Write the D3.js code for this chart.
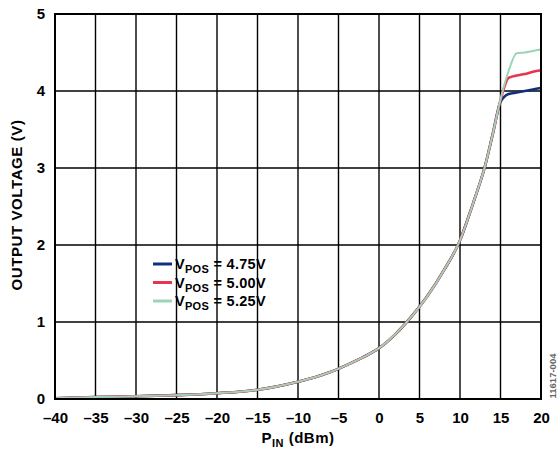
<!DOCTYPE html>
<html>
<head>
<meta charset="utf-8">
<script src="https://cdn.jsdelivr.net/npm/d3@7"></script>
<style>
  body { margin: 0; background: #fff; }
  text { font-family: Arial, "Liberation Sans", sans-serif; font-weight: bold; }
</style>
</head>
<body>
<script>
    //Declare consts/global variables
        const width = 559;
        const height = 451;
        const plotLeft = 55, plotRight = 541, plotTop = 14, plotBottom = 399;

    //Data
        const pIn = [-40, -35, -30, -25, -20, -15, -10, -8, -6, -4, -2, 0, 2, 4, 6, 8, 10, 11, 12, 13, 14, 15, 16, 17, 18, 19, 20];
        const v475 = [0.01, 0.025, 0.035, 0.05, 0.075, 0.12, 0.225, 0.28, 0.35, 0.44, 0.54, 0.66, 0.84, 1.07, 1.34, 1.67, 2.06, 2.35, 2.66, 2.99, 3.42, 3.86, 3.96, 3.98, 4.0, 4.02, 4.04];
        const v500 = [0.01, 0.025, 0.035, 0.05, 0.075, 0.12, 0.225, 0.28, 0.35, 0.44, 0.54, 0.66, 0.84, 1.07, 1.34, 1.67, 2.06, 2.35, 2.66, 2.99, 3.42, 3.88, 4.17, 4.2, 4.22, 4.25, 4.27];
        const v525 = [0.01, 0.025, 0.035, 0.05, 0.075, 0.12, 0.225, 0.28, 0.35, 0.44, 0.54, 0.66, 0.84, 1.07, 1.34, 1.67, 2.06, 2.35, 2.66, 2.99, 3.42, 3.89, 4.26, 4.49, 4.5, 4.52, 4.54];
        const seriesNames = ["4.75V", "5.00V", "5.25V"];
        const seriesColors = ["#13307f", "#e8344e", "#9dd4b6"];
        const xTicks = [-40, -35, -30, -25, -20, -15, -10, -5, 0, 5, 10, 15, 20];
        const yTicks = [0, 1, 2, 3, 4, 5];

        const series = [v475, v500, v525];
        const fontFam = "Arial, 'Liberation Sans', sans-serif";

    //Scales
        const xScale = d3.scaleLinear().domain([-40, 20]).range([plotLeft, plotRight]);
        const yScale = d3.scaleLinear().domain([0, 5]).range([plotBottom, plotTop]);

    //SVG
        const svg = d3.select("body").append("svg")
            .attr("width", width)
            .attr("height", height);

    //Grid
        svg.append("g")
            .selectAll("line")
            .data(xTicks)
            .enter().append("line")
            .attr("x1", d => xScale(d)).attr("x2", d => xScale(d))
            .attr("y1", plotTop).attr("y2", plotBottom)
            .attr("stroke", "#000").attr("stroke-width", 1.4);

        svg.append("g")
            .selectAll("line")
            .data(yTicks)
            .enter().append("line")
            .attr("x1", plotLeft).attr("x2", plotRight)
            .attr("y1", d => yScale(d)).attr("y2", d => yScale(d))
            .attr("stroke", "#000").attr("stroke-width", 1.4);

    //Axes - tick labels only
        const bottomAxis = d3.axisBottom(xScale)
            .tickValues(xTicks)
            .tickSize(0)
            .tickPadding(13)
            .tickFormat(d => d < 0 ? "\u2013" + Math.abs(d) : d);
        const gx = svg.append("g")
            .attr("transform", "translate(0," + plotBottom + ")")
            .call(bottomAxis);
        gx.select(".domain").remove();
        gx.selectAll("text").attr("font-size", 15).attr("font-family", fontFam).attr("font-weight", "bold").attr("fill", "#000");

        const leftAxis = d3.axisLeft(yScale)
            .tickValues(yTicks)
            .tickSize(0)
            .tickPadding(10)
            .tickFormat(d3.format("d"));
        const gy = svg.append("g")
            .attr("transform", "translate(" + plotLeft + ",0)")
            .call(leftAxis);
        gy.select(".domain").remove();
        gy.selectAll("text").attr("font-size", 15).attr("font-family", fontFam).attr("font-weight", "bold").attr("fill", "#000");

    //Lines
        const line = d3.line()
            .x((d, i) => xScale(pIn[i]))
            .y(d => yScale(d))
            .curve(d3.curveMonotoneX);

        const widths = [2.6, 2.6, 2];
        series.forEach((s, k) => {
            svg.append("path")
                .datum(s)
                .attr("d", line)
                .attr("fill", "none")
                .attr("stroke", seriesColors[k])
                .attr("stroke-width", widths[k]);
        });

    //Frame
        svg.append("rect")
            .attr("x", plotLeft).attr("y", plotTop)
            .attr("width", plotRight - plotLeft).attr("height", plotBottom - plotTop)
            .attr("fill", "none").attr("stroke", "#000").attr("stroke-width", 2);

    //Legend
        const legend = svg.append("g").attr("transform", "translate(153,264)");
        seriesNames.forEach((name, k) => {
            const g = legend.append("g").attr("transform", "translate(0," + k * 18.5 + ")");
            g.append("line")
                .attr("x1", 0).attr("x2", 19)
                .attr("y1", 0).attr("y2", 0)
                .attr("stroke", seriesColors[k]).attr("stroke-width", 3);
            const t = g.append("text").attr("x", 22).attr("y", 5).attr("font-size", 14.5).attr("letter-spacing", 0.3);
            t.append("tspan").text("V");
            t.append("tspan").attr("font-size", 11).attr("dy", 4).text("POS");
            t.append("tspan").attr("dy", -4).text(" = " + name);
        });

    //Axis titles
        const xt = svg.append("text")
            .attr("x", (plotLeft + plotRight) / 2)
            .attr("y", 443)
            .attr("text-anchor", "middle")
            .attr("font-size", 15)
            .attr("letter-spacing", 0.5);
        xt.append("tspan").text("P");
        xt.append("tspan").attr("font-size", 11).attr("dy", 3.5).text("IN");
        xt.append("tspan").attr("dy", -3.5).text(" (dBm)");

        svg.append("text")
            .attr("transform", "translate(22," + 205 + ") rotate(-90)")
            .attr("text-anchor", "middle")
            .attr("font-size", 15)
            .attr("letter-spacing", 0.6)
            .text("OUTPUT VOLTAGE (V)");

        svg.append("text")
            .attr("transform", "translate(556,376) rotate(-90)")
            .attr("text-anchor", "middle")
            .attr("font-size", 9.5)
            .attr("font-weight", "normal")
            .attr("fill", "#666")
            .text("11617-004");
</script>
</body>
</html>
